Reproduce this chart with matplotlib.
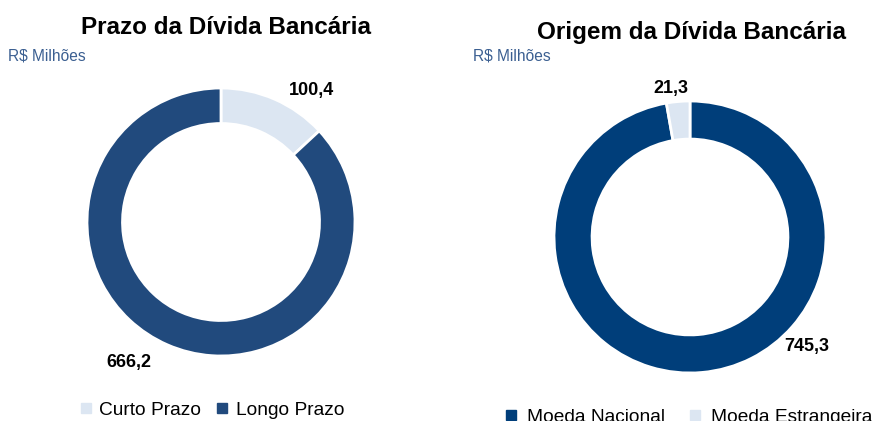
import matplotlib.pyplot as plt
from matplotlib.lines import Line2D

plt.rcParams['font.family'] = ['Liberation Sans', 'DejaVu Sans']

# Prazo da divida
prazo_labels = ["Curto Prazo", "Longo Prazo"]
prazo_values = [100.4, 666.2]
prazo_colors = ["#dce6f2", "#214a7d"]

# Origem da divida
origem_labels = ["Moeda Nacional", "Moeda Estrangeira"]
origem_values = [745.3, 21.3]
origem_colors = ["#003e7a", "#dce6f2"]

W, H = 872, 421
fig = plt.figure(figsize=(W / 100, H / 100), dpi=100)


def px_axes(cx, cy, r):
    # axes centred at pixel (cx, cy) measured from top-left
    return fig.add_axes([(cx - r) / W, (H - cy - r) / H, 2 * r / W, 2 * r / H])


def fmt(v):
    return f"{v:.1f}".replace(".", ",")


# left donut
ax1 = px_axes(221, 222, 134)
w1, _ = ax1.pie(prazo_values, colors=prazo_colors, startangle=90, counterclock=False,
                radius=1, wedgeprops=dict(width=0.265, edgecolor="white", linewidth=2))
ax1.set_xlim(-1, 1)
ax1.set_ylim(-1, 1)
ax1.set_aspect("equal")
ax1.axis("off")

# right donut
ax2 = px_axes(690, 237, 136)
w2, _ = ax2.pie(origem_values, colors=origem_colors, startangle=90, counterclock=False,
                radius=1, wedgeprops=dict(width=0.28, edgecolor="white", linewidth=2))
ax2.set_xlim(-1, 1)
ax2.set_ylim(-1, 1)
ax2.set_aspect("equal")
ax2.axis("off")


def ftext(x, y, s, **kw):
    fig.text(x / W, 1 - y / H, s, **kw)


ftext(226, 27, "Prazo da Dívida Bancária", fontsize=17.5, fontweight="bold", ha="center", va="center")
ftext(691, 32, "Origem da Dívida Bancária", fontsize=17.5, fontweight="bold", ha="center", va="center")
ftext(8, 56, "R$ Milhões", fontsize=11.2, color="#3b5f91", ha="left", va="center")
ftext(473, 56, "R$ Milhões", fontsize=11.2, color="#3b5f91", ha="left", va="center")

ftext(311, 90, fmt(prazo_values[0]), fontsize=13, fontweight="bold", ha="center", va="center")
ftext(129, 362, fmt(prazo_values[1]), fontsize=13, fontweight="bold", ha="center", va="center")
ftext(807, 347, fmt(origem_values[0]), fontsize=13, fontweight="bold", ha="center", va="center")
ftext(671, 88, fmt(origem_values[1]), fontsize=13, fontweight="bold", ha="center", va="center")


def handles(colors):
    return [Line2D([], [], marker="s", linestyle="none", markersize=7,
                   markerfacecolor=c, markeredgecolor=c) for c in colors]


fig.legend(handles(prazo_colors), prazo_labels, loc="center", ncol=2,
           bbox_to_anchor=(210 / W, 1 - 410 / H), frameon=False, fontsize=13.8,
           handletextpad=0.2, columnspacing=0.6, handlelength=1.0)
fig.legend(handles(origem_colors), origem_labels, loc="center", ncol=2,
           bbox_to_anchor=(687 / W, 1 - 417 / H), frameon=False, fontsize=13.8,
           handletextpad=0.3, columnspacing=1.1, handlelength=1.0)

fig.savefig("out.png", dpi=100)
